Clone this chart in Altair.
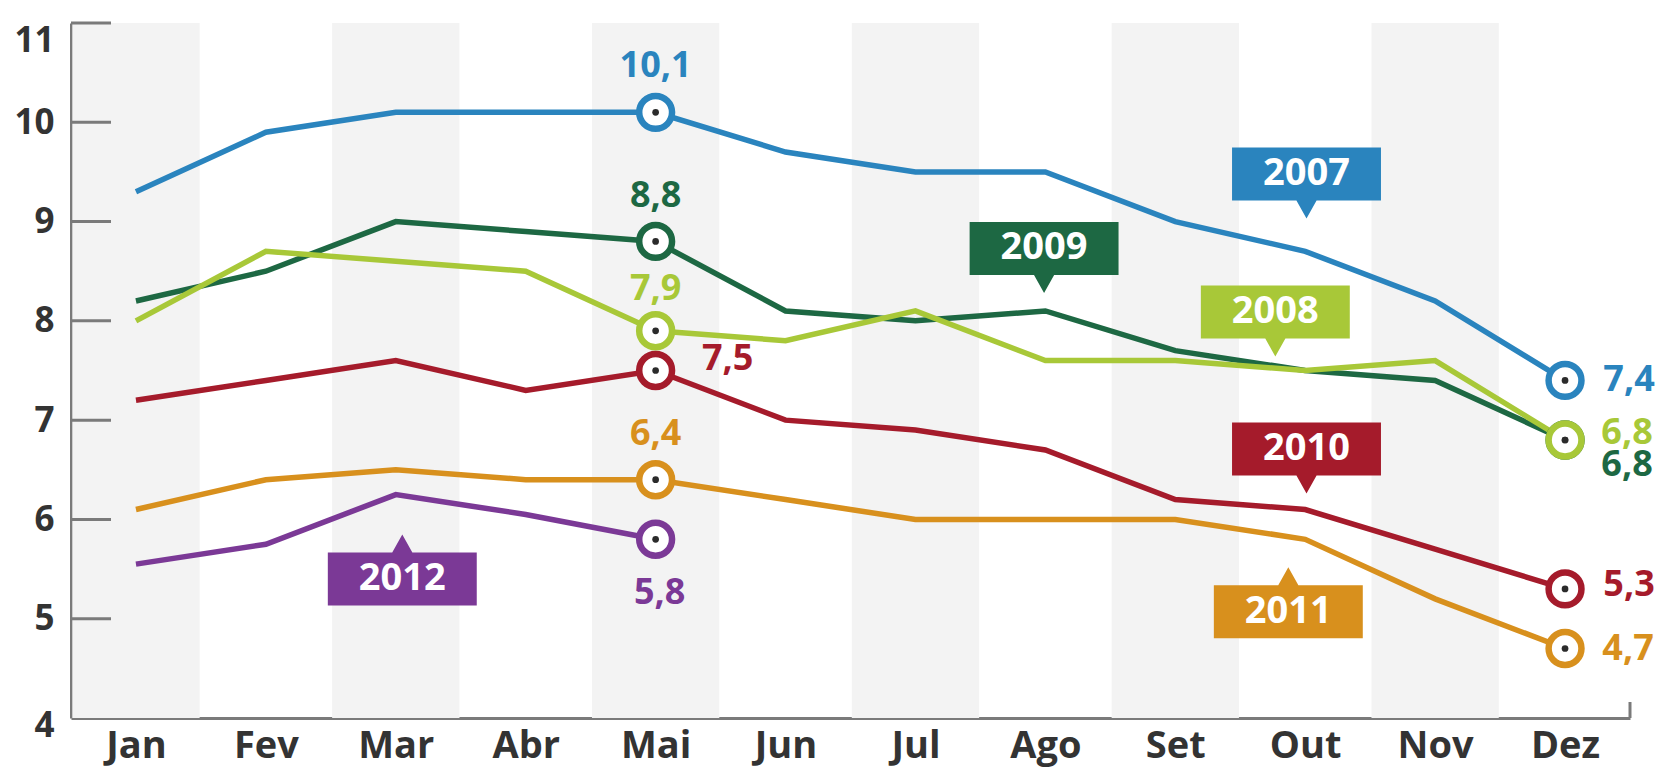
import altair as alt
import pandas as pd

# ---------------- data ----------------
months = ["Jan", "Fev", "Mar", "Abr", "Mai", "Jun", "Jul", "Ago", "Set", "Out", "Nov", "Dez"]
years = ["2007", "2008", "2009", "2010", "2011", "2012"]
v2007 = [9.3, 9.9, 10.1, 10.1, 10.1, 9.7, 9.5, 9.5, 9.0, 8.7, 8.2, 7.4]
v2008 = [8.0, 8.7, 8.6, 8.5, 7.9, 7.8, 8.1, 7.6, 7.6, 7.5, 7.6, 6.8]
v2009 = [8.2, 8.5, 9.0, 8.9, 8.8, 8.1, 8.0, 8.1, 7.7, 7.5, 7.4, 6.8]
v2010 = [7.2, 7.4, 7.6, 7.3, 7.5, 7.0, 6.9, 6.7, 6.2, 6.1, 5.7, 5.3]
v2011 = [6.1, 6.4, 6.5, 6.4, 6.4, 6.2, 6.0, 6.0, 6.0, 5.8, 5.2, 4.7]
v2012 = [5.55, 5.75, 6.25, 6.05, 5.8]
y_ticks = [4, 5, 6, 7, 8, 9, 10, 11]

# ---------------- styles ----------------
colors = ["#2a84be", "#a8c838", "#1d6843", "#a51b2b", "#d8901d", "#7b3996"]
axis_gray = "#7a7a7a"
text_gray = "#333333"
band_gray = "#f3f3f3"
FONT = "Open Sans"

series = {"2007": v2007, "2008": v2008, "2009": v2009,
          "2010": v2010, "2011": v2011, "2012": v2012}

rows = []
for yr, vals in series.items():
    for i, v in enumerate(vals):
        rows.append({"year": yr, "m": i, "value": v})
df = pd.DataFrame(rows)

# highlighted points (Mai and last month), drawing order
marker_order = ["2007", "2009", "2008", "2010", "2011", "2012"]
# label offsets in pixels relative to each highlighted point
label_offsets = {
    ("2007", 4): (0, -46), ("2009", 4): (0, -45), ("2008", 4): (0, -42),
    ("2010", 4): (72, -12), ("2011", 4): (0, -46), ("2012", 4): (4, 54),
    ("2007", 11): (64, 0), ("2008", 11): (62, -7), ("2009", 11): (62, 25),
    ("2010", 11): (64, -4), ("2011", 11): (63, 0),
}
mrows = []
for yr in marker_order:
    vals = series[yr]
    for i in (4, 11):
        if i < len(vals):
            dx, dy = label_offsets[(yr, i)]
            mrows.append({"year": yr, "m": i, "value": vals[i],
                          "txt": f"{vals[i]:.1f}".replace(".", ","),
                          "dx": dx, "dy": dy})
mdf = pd.DataFrame(mrows)

# callout boxes: centre in data units (month index, value)
callouts = pd.DataFrame([
    {"year": "2007", "cx": 9.01, "cy": 9.48, "dir": "down"},
    {"year": "2009", "cx": 6.99, "cy": 8.73, "dir": "down"},
    {"year": "2008", "cx": 8.77, "cy": 8.09, "dir": "down"},
    {"year": "2010", "cx": 9.01, "cy": 6.71, "dir": "down"},
    {"year": "2011", "cx": 8.87, "cy": 5.07, "dir": "up"},
    {"year": "2012", "cx": 2.05, "cy": 5.40, "dir": "up"},
])

bands = pd.DataFrame([{"x0": i - 0.49, "x1": i + 0.49, "y0": y_ticks[0], "y1": y_ticks[-1]}
                      for i in range(0, len(months), 2)])
ticks_df = pd.DataFrame({"t": y_ticks[1:]})

# ---------------- scales / axes ----------------
xs = alt.Scale(domain=[-0.5, len(months) - 0.5], nice=False, zero=False)
ys = alt.Scale(domain=[y_ticks[0], y_ticks[-1]], nice=False, zero=False)
cs = alt.Scale(domain=years, range=colors)

label_expr = "[" + ",".join(f"'{m}'" for m in months) + "][datum.value]"
x_axis = alt.Axis(values=list(range(len(months))), labelExpr=label_expr,
                  ticks=False, tickSize=0, grid=False, domainColor=axis_gray,
                  domainWidth=3, labelFont=FONT, labelFontWeight="bold",
                  labelFontSize=38, labelColor=text_gray, labelPadding=9,
                  title=None)
y_axis = alt.Axis(values=y_ticks, ticks=False, tickSize=0, grid=False,
                  domainColor=axis_gray, domainWidth=3, labelFont=FONT,
                  labelFontWeight="bold", labelFontSize=35, labelColor=text_gray,
                  labelPadding=17,
                  labelOffset=alt.expr("datum.value == 11 ? 17 : (datum.value == 4 ? 7 : 0)"),
                  title=None)

X = lambda f: alt.X(f, scale=xs, axis=x_axis, title=None)
Y = lambda f: alt.Y(f, scale=ys, axis=y_axis, title=None)

band_layer = alt.Chart(bands).mark_rect(color=band_gray).encode(
    x=X("x0:Q"), x2="x1:Q", y=Y("y0:Q"), y2="y1:Q")

tick_layer = alt.Chart(ticks_df).mark_rule(color=axis_gray, strokeWidth=3).encode(
    x=alt.value(0), x2=alt.value(40), y=Y("t:Q"))

end_tick = alt.Chart(pd.DataFrame({"e": [len(months) - 0.5]})).mark_rule(
    color=axis_gray, strokeWidth=3).encode(
    x=X("e:Q"), y=alt.value(679), y2=alt.value(695))

line_main = alt.Chart(df).transform_filter("datum.year != '2008'").mark_line(
    strokeWidth=5.5).encode(
    x=X("m:Q"), y=Y("value:Q"),
    stroke=alt.Stroke("year:N", scale=cs, legend=None),
    detail="year:N")
line_top = alt.Chart(df).transform_filter("datum.year == '2008'").mark_line(
    strokeWidth=5.5).encode(
    x=X("m:Q"), y=Y("value:Q"),
    stroke=alt.Stroke("year:N", scale=cs, legend=None))

def box_path(direction):
    if direction == "down":
        return "M-2.81,-1 L2.81,-1 L2.81,1 L0.38,1 L0,1.68 L-0.38,1 L-2.81,1 Z"
    return "M-2.81,1 L2.81,1 L2.81,-1 L0.38,-1 L0,-1.68 L-0.38,-1 L-2.81,-1 Z"

box_layers = []
for d in ("down", "up"):
    box_layers.append(
        alt.Chart(callouts).transform_filter(f"datum.dir == '{d}'").mark_point(
            shape=box_path(d), filled=True, size=2809, opacity=1, strokeWidth=0).encode(
            x=X("cx:Q"), y=Y("cy:Q"),
            fill=alt.Fill("year:N", scale=cs, legend=None)))

box_text = alt.Chart(callouts).mark_text(
    font=FONT, fontWeight="bold", fontSize=38, color="white",
    align="center", baseline="middle").encode(
    x=X("cx:Q"), y=Y("cy:Q"), text="year:N")

rings = alt.Chart(mdf).mark_point(
    shape="circle", filled=True, fill="white", size=1080, strokeWidth=6.5, opacity=1).encode(
    x=X("m:Q"), y=Y("value:Q"),
    stroke=alt.Stroke("year:N", scale=cs, legend=None))

dots = alt.Chart(mdf).mark_point(
    shape="circle", filled=True, size=45, color="#2b2b2b", opacity=1).encode(
    x=X("m:Q"), y=Y("value:Q"))

value_labels = alt.Chart(mdf).mark_text(
    font=FONT, fontWeight="bold", fontSize=36, align="center", baseline="middle",
    dx=alt.expr("datum.dx"), dy=alt.expr("datum.dy")).encode(
    x=X("m:Q"), y=Y("value:Q"), text="txt:N",
    color=alt.Color("year:N", scale=cs, legend=None))

chart = alt.layer(
    band_layer, tick_layer, end_tick, line_main, line_top,
    *box_layers, box_text, rings, dots, value_labels
).properties(
    width=1559, height=695,
    padding={"left": 63, "top": 15, "right": 30, "bottom": 50},
    autosize=alt.AutoSizeParams(type="none"),
    background="white",
).configure_view(stroke=None)

chart.save("out.html", embed_options={"renderer": "svg", "actions": False})
